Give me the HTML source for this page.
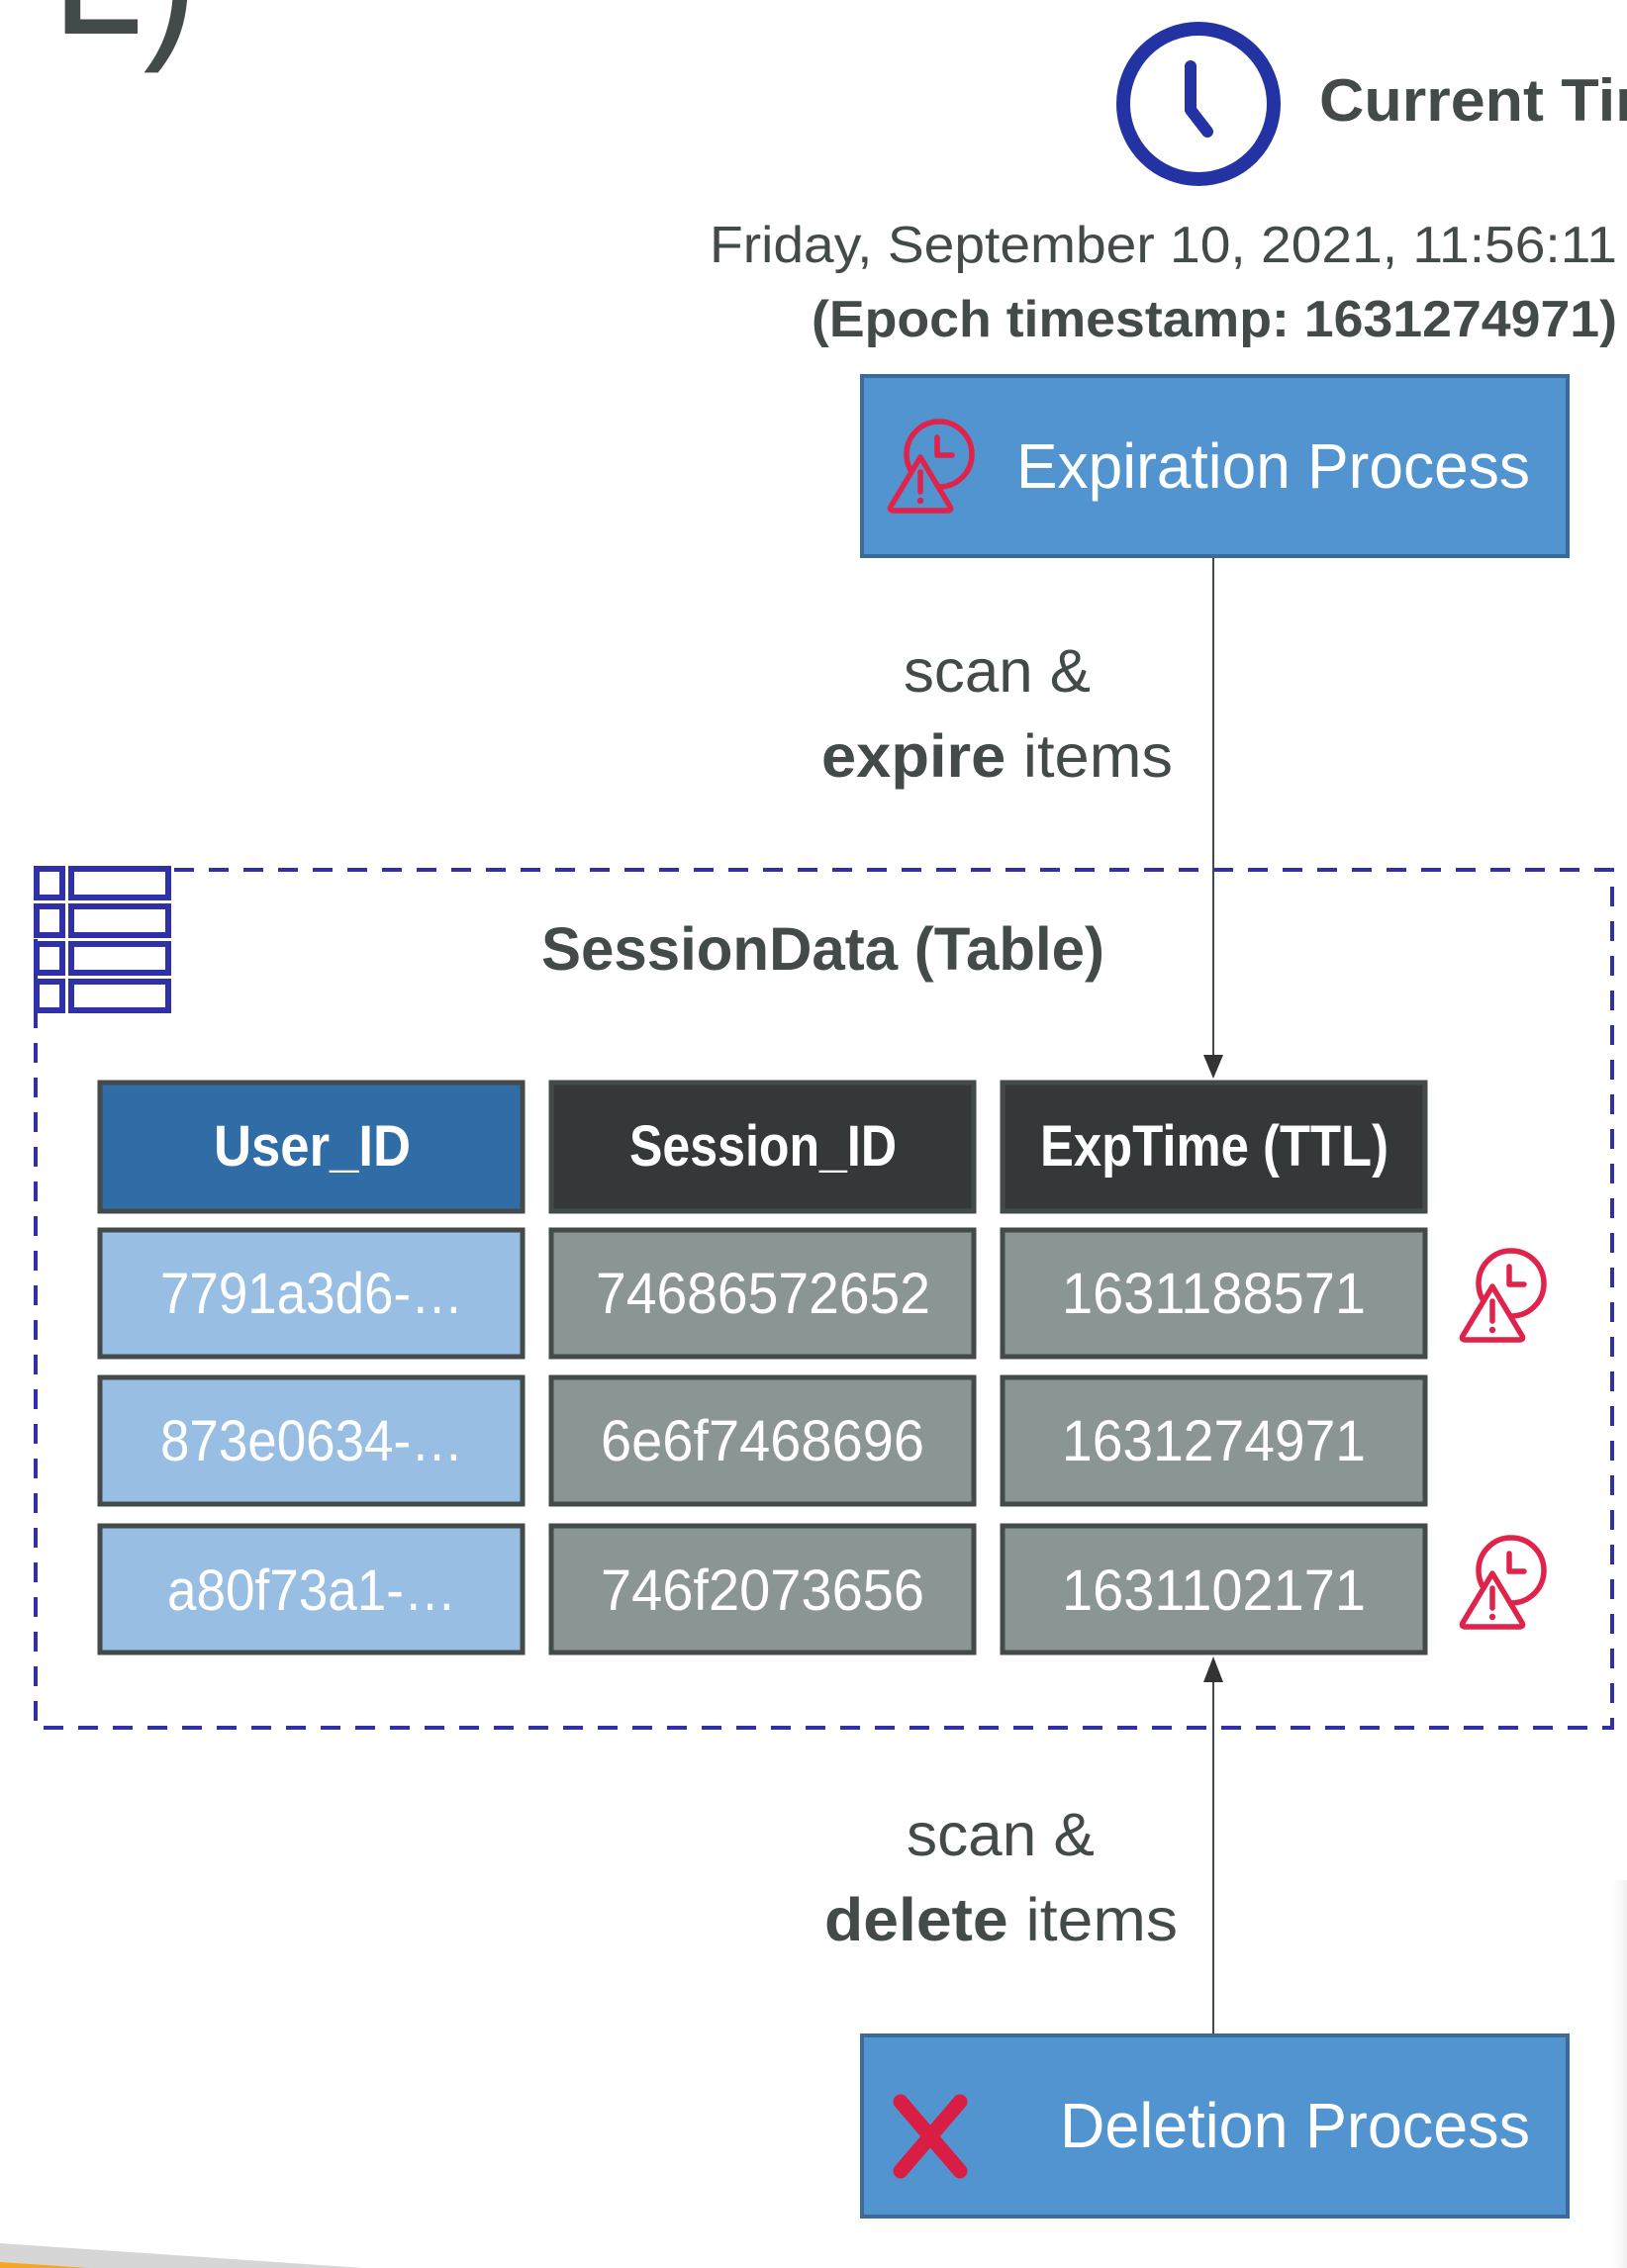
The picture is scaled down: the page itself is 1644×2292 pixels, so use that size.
<!DOCTYPE html>
<html><head><meta charset="utf-8"><style>
html,body{margin:0;padding:0;background:#fff;overflow:hidden;}
svg{display:block;}
text{font-family:"Liberation Sans",sans-serif;}
</style></head><body>
<svg width="1644" height="2292" viewBox="0 0 1644 2292" xmlns="http://www.w3.org/2000/svg">
<defs>
<linearGradient id="sh" x1="0" y1="0" x2="1" y2="0">
  <stop offset="0" stop-color="#fff" stop-opacity="0"/>
  <stop offset="1" stop-color="#EFEFEF"/>
</linearGradient>
</defs>

<!-- top-left fragment -->
<text x="52" y="34" font-size="190" fill="#434a4a" textLength="148" lengthAdjust="spacingAndGlyphs">L)</text>

<!-- clock -->
<circle cx="1211" cy="105" r="76" fill="none" stroke="#2433A3" stroke-width="14"/>
<path d="M1203,67 V111 L1220,133" fill="none" stroke="#2433A3" stroke-width="12" stroke-linecap="round" stroke-linejoin="round"/>
<text x="1333" y="122" font-size="60" font-weight="bold" fill="#434a4a" textLength="390" lengthAdjust="spacingAndGlyphs">Current Time</text>

<text x="717" y="265" font-size="52" fill="#434a4a" textLength="917" lengthAdjust="spacingAndGlyphs">Friday, September 10, 2021, 11:56:11</text>
<text x="820" y="340" font-size="52" font-weight="bold" fill="#434a4a" textLength="814" lengthAdjust="spacingAndGlyphs">(Epoch timestamp: 1631274971)</text>

<!-- expiration box -->
<rect x="871" y="380" width="713" height="182" fill="#5294CF" stroke="#3C6A99" stroke-width="4"/>
<g transform="translate(949,459)">
  <circle cx="0" cy="0" r="33" fill="none" stroke="#E0234A" stroke-width="5.5"/>
  <path d="M-2,-17 V1 H13" fill="none" stroke="#E0234A" stroke-width="5.5" stroke-linecap="round" stroke-linejoin="round"/>
  <path d="M-19,3 L-49,53 Q-51,57 -46,57 L8,57 Q13,57 11,53 Z" fill="#5294CF" stroke="#E0234A" stroke-width="5.5" stroke-linejoin="round"/>
  <path d="M-19,18 V38" stroke="#E0234A" stroke-width="5.5" stroke-linecap="round"/>
  <circle cx="-19" cy="47" r="3.2" fill="#E0234A"/>
</g>
<text x="1027" y="493" font-size="64" fill="#fff" textLength="519" lengthAdjust="spacingAndGlyphs">Expiration Process</text>

<!-- top connector -->
<line x1="1226" y1="564" x2="1226" y2="1070" stroke="#434a4a" stroke-width="2"/>
<path d="M1216,1066 L1236,1066 L1226,1090 Z" fill="#333"/>
<text x="913" y="699" font-size="61" fill="#434a4a" textLength="189" lengthAdjust="spacingAndGlyphs">scan &amp;</text>
<text x="830" y="785" font-size="61" fill="#434a4a" textLength="355" lengthAdjust="spacingAndGlyphs"><tspan font-weight="bold">expire</tspan> items</text>

<!-- dashed container -->
<rect x="36" y="879" width="1593" height="867" fill="none" stroke="#3030A8" stroke-width="4" stroke-dasharray="20 15"/>
<!-- table icon -->
<g fill="#fff" stroke="#3030A8" stroke-width="6">
  <rect x="37" y="878" width="26" height="29"/><rect x="72" y="878" width="98" height="29"/>
  <rect x="37" y="916" width="26" height="29"/><rect x="72" y="916" width="98" height="29"/>
  <rect x="37" y="954" width="26" height="29"/><rect x="72" y="954" width="98" height="29"/>
  <rect x="37" y="992" width="26" height="29"/><rect x="72" y="992" width="98" height="29"/>
</g>
<text x="547" y="980" font-size="61" font-weight="bold" fill="#434a4a" textLength="569" lengthAdjust="spacingAndGlyphs">SessionData (Table)</text>

<!-- table -->
<g stroke="#434a4a" stroke-width="5">
  <rect x="101" y="1094" width="427" height="130" fill="#306CA6"/>
  <rect x="557" y="1094" width="427" height="130" fill="#343839"/>
  <rect x="1013" y="1094" width="427" height="130" fill="#343839"/>
  <rect x="101" y="1243" width="427" height="128" fill="#99BEE3"/>
  <rect x="557" y="1243" width="427" height="128" fill="#8B9593"/>
  <rect x="1013" y="1243" width="427" height="128" fill="#8B9593"/>
  <rect x="101" y="1392" width="427" height="128" fill="#99BEE3"/>
  <rect x="557" y="1392" width="427" height="128" fill="#8B9593"/>
  <rect x="1013" y="1392" width="427" height="128" fill="#8B9593"/>
  <rect x="101" y="1542" width="427" height="128" fill="#99BEE3"/>
  <rect x="557" y="1542" width="427" height="128" fill="#8B9593"/>
  <rect x="1013" y="1542" width="427" height="128" fill="#8B9593"/>
</g>
<g fill="#fff" font-size="58">
  <text x="216" y="1178" font-weight="bold" textLength="199" lengthAdjust="spacingAndGlyphs">User_ID</text>
  <text x="636" y="1178" font-weight="bold" textLength="270" lengthAdjust="spacingAndGlyphs">Session_ID</text>
  <text x="1051" y="1178" font-weight="bold" textLength="352" lengthAdjust="spacingAndGlyphs">ExpTime (TTL)</text>
  <text x="162" y="1327" textLength="306" lengthAdjust="spacingAndGlyphs">7791a3d6-…</text>
  <text x="602" y="1327" textLength="338" lengthAdjust="spacingAndGlyphs">74686572652</text>
  <text x="1073" y="1327" textLength="307" lengthAdjust="spacingAndGlyphs">1631188571</text>
  <text x="162" y="1476" textLength="306" lengthAdjust="spacingAndGlyphs">873e0634-…</text>
  <text x="607" y="1476" textLength="327" lengthAdjust="spacingAndGlyphs">6e6f7468696</text>
  <text x="1073" y="1476" textLength="307" lengthAdjust="spacingAndGlyphs">1631274971</text>
  <text x="169" y="1627" textLength="292" lengthAdjust="spacingAndGlyphs">a80f73a1-…</text>
  <text x="607" y="1627" textLength="327" lengthAdjust="spacingAndGlyphs">746f2073656</text>
  <text x="1073" y="1627" textLength="307" lengthAdjust="spacingAndGlyphs">1631102171</text>
</g>
<g transform="translate(1527,1297)">
  <circle cx="0" cy="0" r="33" fill="none" stroke="#E0234A" stroke-width="5.5"/>
  <path d="M-2,-17 V1 H13" fill="none" stroke="#E0234A" stroke-width="5.5" stroke-linecap="round" stroke-linejoin="round"/>
  <path d="M-19,3 L-49,53 Q-51,57 -46,57 L8,57 Q13,57 11,53 Z" fill="#fff" stroke="#E0234A" stroke-width="5.5" stroke-linejoin="round"/>
  <path d="M-19,18 V38" stroke="#E0234A" stroke-width="5.5" stroke-linecap="round"/>
  <circle cx="-19" cy="47" r="3.2" fill="#E0234A"/>
</g>
<g transform="translate(1527,1587)">
  <circle cx="0" cy="0" r="33" fill="none" stroke="#E0234A" stroke-width="5.5"/>
  <path d="M-2,-17 V1 H13" fill="none" stroke="#E0234A" stroke-width="5.5" stroke-linecap="round" stroke-linejoin="round"/>
  <path d="M-19,3 L-49,53 Q-51,57 -46,57 L8,57 Q13,57 11,53 Z" fill="#fff" stroke="#E0234A" stroke-width="5.5" stroke-linejoin="round"/>
  <path d="M-19,18 V38" stroke="#E0234A" stroke-width="5.5" stroke-linecap="round"/>
  <circle cx="-19" cy="47" r="3.2" fill="#E0234A"/>
</g>

<!-- bottom connector -->
<line x1="1226" y1="1695" x2="1226" y2="2056" stroke="#434a4a" stroke-width="2"/>
<path d="M1216,1700 L1236,1700 L1226,1674 Z" fill="#333"/>
<text x="916" y="1875" font-size="61" fill="#434a4a" textLength="190" lengthAdjust="spacingAndGlyphs">scan &amp;</text>
<text x="833" y="1961" font-size="61" fill="#434a4a" textLength="357" lengthAdjust="spacingAndGlyphs"><tspan font-weight="bold">delete</tspan> items</text>

<!-- deletion box -->
<rect x="871" y="2057" width="713" height="183" fill="#5294CF" stroke="#3C6A99" stroke-width="4"/>
<path d="M910,2124 L970,2194 M970,2124 L910,2194" stroke="#D81E45" stroke-width="15" stroke-linecap="round"/>
<text x="1071" y="2170" font-size="64" fill="#fff" textLength="475" lengthAdjust="spacingAndGlyphs">Deletion Process</text>

<!-- bottom-left decoration -->
<path d="M0,2267 L367,2292 L0,2292 Z" fill="#D6D6D6"/>
<path d="M0,2286 L90,2292 L0,2292 Z" fill="#F5A623"/>
<!-- right edge faint shadow -->
<rect x="1624" y="1900" width="20" height="392" fill="url(#sh)"/>
</svg>
</body></html>
